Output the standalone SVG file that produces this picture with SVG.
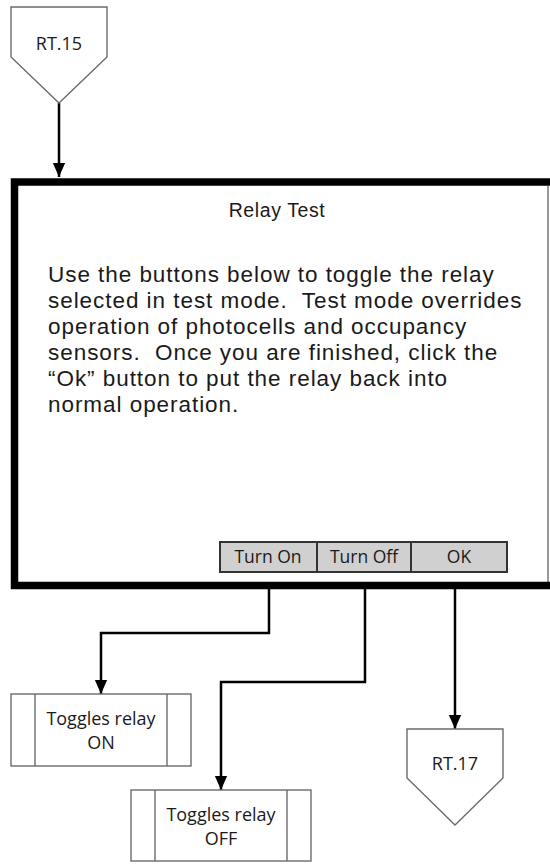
<svg xmlns="http://www.w3.org/2000/svg" width="550" height="865" viewBox="0 0 550 865">
<style>
.shape{fill:#fff;stroke:#6b6b6b;stroke-width:1.4}
.lbl{font-family:"Open Sans","Noto Sans",sans-serif;font-size:18px;fill:#1a1a1a;text-anchor:middle}
.body{font-family:"Liberation Sans",Arial,sans-serif;font-size:22.5px;letter-spacing:0.95px;fill:#1a1a1a}
.title{font-family:"Liberation Sans",Arial,sans-serif;font-size:19.5px;letter-spacing:0.6px;fill:#1a1a1a;text-anchor:middle}
.btn{fill:#d0d0d0;stroke:#333;stroke-width:2}
.btxt{font-family:"Open Sans","Noto Sans",sans-serif;font-size:17.5px;fill:#1a1a1a;text-anchor:middle}
.conn{fill:none;stroke:#000;stroke-width:2.5}
</style>
<defs>
<marker id="arr" markerWidth="14" markerHeight="16" refX="16" refY="7" orient="auto" markerUnits="userSpaceOnUse" viewBox="0 0 16 14">
<path d="M0,0 L16,7 L0,14 Z" fill="#000"/>
</marker>
</defs>
<g id="connectors">
<path class="conn" d="M59,103 V177" marker-end="url(#arr)"/>
<path class="conn" d="M269,572 V633 H101 V694" marker-end="url(#arr)"/>
<path class="conn" d="M365,572 V682 H221 V790" marker-end="url(#arr)"/>
<path class="conn" d="M455,572 V729" marker-end="url(#arr)"/>
</g>
<g id="rt15">
<polygon class="shape" points="11,7 107,7 107,57 59,103 11,57"/>
<text class="lbl" x="59" y="50">RT.15</text>
</g>
<g id="relay-test">
<rect x="14" y="182" width="534" height="404" fill="#fff"/>
<line x1="548" y1="186" x2="548" y2="582" stroke="#777" stroke-width="1.5"/>
<path d="M550,182 H14.5 V585.5 H550" fill="none" stroke="#000" stroke-width="7.5"/>
<text class="title" x="277" y="217">Relay Test</text>
<text class="body" x="48" y="282">Use the buttons below to toggle the relay</text>
<text class="body" x="48" y="308" xml:space="preserve">selected in test mode.  Test mode overrides</text>
<text class="body" x="48" y="334">operation of photocells and occupancy</text>
<text class="body" x="48" y="360" xml:space="preserve">sensors.  Once you are finished, click the</text>
<text class="body" x="48" y="386">“Ok” button to put the relay back into</text>
<text class="body" x="48" y="412">normal operation.</text>
</g>
<g id="btn-turn-on">
<rect class="btn" x="220" y="542" width="97" height="30"/>
<text class="btxt" x="268" y="563">Turn On</text>
</g>
<g id="btn-turn-off">
<rect class="btn" x="317" y="542" width="94" height="30"/>
<text class="btxt" x="364" y="563">Turn Off</text>
</g>
<g id="btn-ok">
<rect class="btn" x="411" y="542" width="96" height="30"/>
<text class="btxt" x="459" y="563">OK</text>
</g>
<g id="toggle-on">
<rect class="shape" x="11" y="694" width="180" height="72"/>
<line class="shape" x1="35" y1="694" x2="35" y2="766"/>
<line class="shape" x1="167" y1="694" x2="167" y2="766"/>
<text class="lbl" x="101" y="725">Toggles relay</text>
<text class="lbl" x="101" y="749">ON</text>
</g>
<g id="toggle-off">
<rect class="shape" x="131" y="790" width="180" height="71"/>
<line class="shape" x1="155" y1="790" x2="155" y2="861"/>
<line class="shape" x1="287" y1="790" x2="287" y2="861"/>
<text class="lbl" x="221" y="821">Toggles relay</text>
<text class="lbl" x="221" y="845">OFF</text>
</g>
<g id="rt17">
<polygon class="shape" points="407,729 503,729 503,778 455,825 407,778"/>
<text class="lbl" x="455" y="770">RT.17</text>
</g>
</svg>
